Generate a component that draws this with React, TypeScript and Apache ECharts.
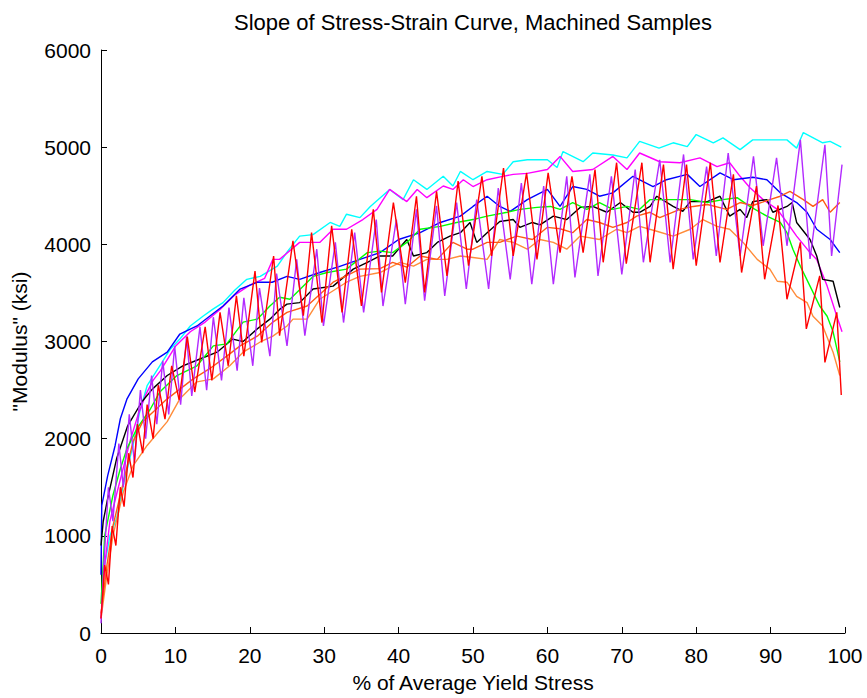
import React, { useEffect, useRef } from "react";
import * as echarts from "echarts";

const titleText = "Slope of Stress-Strain Curve, Machined Samples";
const xName = "% of Average Yield Stress";
const yName = "\"Modulus\" (ksi)";

const xTicks = [0, 10, 20, 30, 40, 50, 60, 70, 80, 90, 100];
const yTicks = [0, 1000, 2000, 3000, 4000, 5000, 6000];

const cyanData = [[0.5,700],[1.2,1000],[2.1,1180],[3.0,1520],[4.3,1930],[5.2,2275],[6.2,2545],[7.9,2750],[9.3,2920],[10.6,3025],[12,3160],[13.7,3260],[15,3330],[16.4,3400],[18,3530],[19.6,3640],[21.4,3670],[23.7,3775],[25.1,3930],[26.7,4085],[28.5,4100],[30.8,4225],[32.1,4185],[33,4310],[34.8,4275],[36.2,4390],[38.8,4565],[40.6,4460],[42,4665],[43.8,4565],[46,4700],[47.3,4600],[48.3,4750],[50,4665],[51.9,4750],[54,4720],[55.4,4850],[57.3,4870],[60,4870],[61.3,4790],[62.1,4955],[64.8,4850],[66.1,4940],[68.8,4920],[70.7,4890],[72.4,5060],[75,4990],[76.9,5045],[78.8,5005],[80,5130],[82.3,5045],[83.6,5095],[85.9,4975],[87.6,5075],[90.3,5075],[92.2,5075],[93.5,4990],[94.4,5150],[97,5045],[98,5060],[99.5,5000]];

const magentaData = [[0,150],[0.5,700],[1.2,1150],[2,1400],[3,1700],[4,2000],[5,2250],[6,2450],[7,2600],[8,2700],[10,2950],[12,3100],[14,3200],[16,3330],[18,3480],[20,3580],[22,3650],[23.1,3845],[24,3845],[26.7,4020],[29.4,4020],[31.2,4155],[33,4155],[35.2,4255],[37.1,4360],[38.8,4565],[41.1,4440],[42.5,4565],[43.8,4480],[46,4600],[47.3,4565],[48.7,4665],[50,4595],[51.9,4665],[54,4700],[55.4,4720],[57.3,4730],[60,4770],[61.7,4905],[63.4,4750],[66.1,4770],[68.8,4905],[70.7,4770],[72.4,4940],[75.1,4850],[77.8,4840],[80.5,4890],[82.8,4800],[84.5,4840],[85.9,4700],[87.2,4585],[89,4460],[90.9,4360],[92.2,4225],[93.5,4085],[95.3,3915],[96.2,3845],[97.6,3570],[98.9,3260],[99.6,3100]];

const blueData = [[0,600],[0.1,1310],[0.9,1620],[1.9,1930],[2.6,2205],[3.5,2410],[5,2615],[6.9,2790],[8.9,2890],[10.6,3077],[12.9,3160],[14.6,3260],[16.4,3365],[18.7,3540],[21,3610],[23,3610],[25,3670],[26.7,3640],[29.4,3710],[32,3770],[34.8,3845],[37.5,3915],[40,4050],[42.9,4120],[45.6,4225],[48.3,4290],[50,4390],[51.9,4495],[53.6,4390],[55,4340],[57.3,4460],[60,4565],[61.7,4390],[63.4,4595],[65.3,4565],[67,4495],[68.8,4530],[71.5,4700],[74.2,4595],[76,4665],[78.8,4720],[80.5,4595],[83.2,4735],[85,4665],[87.6,4690],[89.5,4665],[91.3,4530],[93.5,4430],[94.9,4330],[96.2,4155],[98,4050],[99.3,3915]];

const blackData = [[0,900],[0.3,1150],[0.9,1385],[2.1,1795],[3.6,2135],[5.5,2380],[6.9,2510],[8.9,2650],[11,2750],[13.3,2820],[15.6,2890],[17.7,3025],[19.1,3000],[21,3130],[22.7,3230],[24,3330],[25,3385],[26.7,3400],[28.5,3540],[31.2,3570],[33.9,3745],[35.8,3815],[37.5,3880],[39.2,3880],[41.1,4050],[42,3880],[43.8,3915],[45.2,4020],[46.9,4085],[48.3,4120],[49.6,4225],[50.5,4020],[51.9,4120],[53.6,4235],[55.4,4255],[56.3,4175],[58,4225],[59,4200],[60.8,4290],[62.6,4255],[64.4,4380],[66.1,4390],[68,4330],[69.8,4430],[71.5,4330],[72.4,4330],[73.8,4390],[74.7,4495],[76.9,4390],[78.2,4340],[79.2,4440],[81.5,4440],[83.2,4495],[84.5,4290],[85.9,4360],[86.8,4275],[87.6,4440],[89.5,4460],[90.3,4330],[92.2,4390],[92.9,4430],[93.5,4225],[95.3,4050],[96.2,3880],[97,3640],[98.4,3620],[99.3,3350]];

const greenData = [[0,300],[0.5,1005],[1.6,1415],[2.6,1690],[3.5,1900],[4.8,2100],[6.6,2300],[7.9,2480],[10.2,2650],[12.9,2750],[15.1,2955],[16.9,2975],[19.1,3200],[21,3230],[22.7,3365],[24,3455],[25.4,3435],[28.5,3670],[30.4,3710],[33,3745],[35.8,3915],[37.5,3930],[39.2,3915],[41.1,4020],[42.9,4155],[45.6,4185],[47.8,4225],[50,4255],[51.9,4290],[54.6,4330],[56.3,4360],[58.6,4380],[60.4,4390],[61.7,4360],[63.4,4430],[65.3,4360],[67,4430],[68.8,4360],[70.7,4390],[72.4,4360],[73.8,4460],[76.9,4460],[79.2,4460],[81.5,4430],[83.6,4460],[85.5,4480],[87.2,4390],[89.5,4290],[91.3,4225],[92.2,4120],[93,3950],[94,3775],[95.3,3570],[96.6,3365],[97.6,3260],[98.4,3100],[99.3,2790]];

const darkOrangeData = [[0,200],[0.8,700],[1.6,1100],[3,1550],[4.3,1970],[5.6,2175],[7,2275],[8.9,2410],[10.6,2510],[12.4,2615],[14.6,2720],[16.9,2850],[18.7,2955],[21,3055],[23.1,3200],[25,3300],[27.7,3365],[31.2,3610],[34.8,3745],[37.5,3750],[39.2,3815],[41.1,3765],[42.9,3880],[45.2,3845],[47.3,4020],[49.2,3950],[50,3950],[51.9,4020],[53.6,4020],[55.9,4085],[58,4050],[60,4175],[61.7,4160],[63.4,4120],[65.3,4255],[67,4225],[68.8,4175],[70.7,4225],[72,4290],[73.8,4330],[75.1,4275],[77.8,4360],[79.6,4390],[81.5,4410],[84.1,4360],[85.9,4430],[87.6,4400],[89.9,4460],[91.3,4495],[92.6,4545],[94.4,4460],[95.7,4390],[97,4460],[98,4330],[99.3,4430]];

const lightOrangeData = [[0,150],[0.8,600],[1.6,1000],[3,1450],[4.3,1720],[6.2,1930],[8.9,2175],[10.6,2410],[12.9,2585],[15.1,2615],[17.3,2750],[19.1,2890],[21.4,2995],[23.1,3055],[25,3160],[25.8,3230],[27.7,3230],[29.4,3435],[33,3610],[34.8,3670],[37.5,3710],[40.2,3815],[42,3775],[43.8,3845],[46.5,3845],[48.3,3880],[50,3865],[51.9,3845],[53.6,4050],[55.4,4020],[57.3,3950],[59,4050],[60.8,4020],[62.6,3950],[64.4,4085],[67,4050],[69.3,4155],[70.7,4120],[72.4,4185],[74.7,4135],[76.9,4085],[79.2,4155],[80.9,4255],[82.8,4185],[84.5,4155],[86.3,4020],[88.2,3845],[89.9,3745],[90.9,3620],[92.2,3610],[93.5,3465],[94.9,3400],[95.7,3260],[97,3160],[98.4,2890],[99.3,2650]];

const purpleData = [[0,100],[0.3,600],[1.0,1500],[1.6,1150],[2.4,1950],[3.0,1500],[3.8,2250],[4.5,1750],[5.3,2500],[6.0,2000],[6.8,2650],[7.5,2150],[8.3,2800],[9.1,2250],[9.9,2950],[10.7,2350],[11.5,3050],[12.2,2440],[13.3,3150],[14.2,2500],[15.1,3250],[16.2,2600],[17.2,3350],[18.3,2700],[19.2,3450],[20.4,2750],[21.3,3550],[22.7,2850],[23.6,3700],[25.0,2955],[26.3,3845],[27.4,3060],[29.0,3950],[29.9,3160],[31.5,4020],[32.6,3195],[34.1,4120],[35.3,3300],[37.0,4255],[37.9,3365],[39.7,4255],[40.9,3385],[42.4,4360],[43.5,3420],[45.1,4395],[46.2,3470],[47.8,4430],[49.1,3540],[50.5,4460],[52.1,3540],[53.4,4580],[55.0,3640],[56.5,4630],[57.9,3590],[59.5,4600],[60.8,3590],[62.6,4700],[63.7,3660],[65.7,4720],[66.8,3675],[68.6,4700],[70.0,3690],[71.8,4770],[72.9,3815],[75.1,4870],[76.5,3815],[78.3,4925],[79.6,3845],[81.4,4800],[82.7,3880],[84.3,4940],[85.9,3880],[87.7,4905],[89.0,3985],[90.8,4890],[92.2,3985],[94.0,5075],[95.3,3850],[97.3,5025],[98.2,3880],[99.6,4820]];

const redData = [[0,150],[0.5,700],[1.0,500],[1.5,1100],[2.0,900],[2.6,1500],[3.1,1300],[3.7,1850],[4.3,1600],[4.9,2150],[5.6,1850],[6.2,2350],[7.0,2000],[7.7,2550],[8.6,2200],[9.5,2750],[10.5,2400],[11.6,3050],[12.6,2480],[14.0,3150],[14.9,2600],[16.0,3300],[17.1,2750],[18.2,3470],[19.2,2850],[20.7,3725],[21.6,2990],[23.2,3880],[24.0,3060],[25.8,4035],[27.2,3265],[28.3,4120],[29.7,3195],[31.0,4190],[32.4,3300],[33.7,4155],[35.0,3365],[36.6,4360],[37.7,3505],[39.3,4430],[40.9,3605],[42.4,4495],[43.5,3505],[45.1,4545],[46.5,3675],[48.0,4650],[49.4,3780],[51.2,4700],[52.5,3880],[54.1,4785],[55.4,3880],[57.2,4735],[58.6,3845],[60.1,4735],[61.7,3915],[63.3,4700],[64.8,3915],[66.4,4770],[67.5,3815],[69.3,4840],[70.6,3800],[72.7,4840],[73.8,3815],[75.6,4820],[76.9,3745],[78.7,4820],[80.0,3780],[81.9,4840],[83.2,3815],[85.0,4720],[86.1,3710],[88.1,4600],[89.2,3640],[91.0,4400],[92.2,3435],[94.0,4020],[94.8,3130],[96.6,3675],[97.3,2785],[98.9,3300],[99.5,2450]];

const seriesDefs = [
  { name: "cyan", data: cyanData, color: "#00ffff" },
  { name: "magenta", data: magentaData, color: "#ff00ff" },
  { name: "blue", data: blueData, color: "#0000ff" },
  { name: "black", data: blackData, color: "#000000" },
  { name: "green", data: greenData, color: "#00ff00" },
  { name: "lightOrange", data: lightOrangeData, color: "#ff8c3a" },
  { name: "darkOrange", data: darkOrangeData, color: "#ff5a14" },
  { name: "purple", data: purpleData, color: "#b22aff" },
  { name: "red", data: redData, color: "#ff0000" },
];

const FONT = "'Liberation Sans', Arial, sans-serif";
const FS = 21;

export default function App() {
  const ref = useRef<HTMLDivElement>(null);
  useEffect(() => {
    if (!ref.current) return;
    document.body.style.margin = "0";
    document.body.style.overflow = "hidden";
    const chart = echarts.init(ref.current, null, { renderer: "svg" });
    chart.setOption({
      animation: false,
      backgroundColor: "#ffffff",
      textStyle: { fontFamily: FONT },
      grid: { left: 101, right: 22, top: 50, bottom: 63, containLabel: false },
      graphic: [
        {
          type: "text",
          x: 473,
          y: 22,
          style: {
            text: titleText,
            fontSize: 22,
            fontFamily: FONT,
            fill: "#000",
            textAlign: "center",
            textVerticalAlign: "middle",
          },
        },
      ],
      xAxis: {
        type: "value",
        min: 0,
        max: 100,
        interval: 10,
        name: xName,
        nameLocation: "middle",
        nameGap: 39,
        nameTextStyle: { fontSize: FS, color: "#000", fontFamily: FONT },
        axisLine: { show: true, lineStyle: { color: "#000", width: 1 } },
        axisTick: { show: true, inside: true, length: 6, lineStyle: { color: "#000" } },
        axisLabel: {
          color: "#000",
          fontSize: FS,
          margin: 12,
          fontFamily: FONT,
          formatter: (v: number) => (xTicks.includes(v) ? String(v) : ""),
        },
        splitLine: { show: false },
      },
      yAxis: {
        type: "value",
        min: 0,
        max: 6000,
        interval: 1000,
        name: yName,
        nameLocation: "middle",
        nameGap: 71,
        nameRotate: 90,
        nameTextStyle: { fontSize: FS, color: "#000", fontFamily: FONT },
        axisLine: { show: true, lineStyle: { color: "#000", width: 1 } },
        axisTick: { show: true, inside: true, length: 6, lineStyle: { color: "#000" } },
        axisLabel: {
          color: "#000",
          fontSize: FS,
          margin: 10,
          fontFamily: FONT,
          formatter: (v: number) => (yTicks.includes(v) ? String(v) : ""),
        },
        splitLine: { show: false },
      },
      series: seriesDefs.map((s) => ({
        name: s.name,
        type: "line",
        data: s.data,
        showSymbol: false,
        symbol: "none",
        lineStyle: { color: s.color, width: 1.4 },
        itemStyle: { color: s.color },
      })),
    });
    return () => chart.dispose();
  }, []);
  return <div ref={ref} style={{ width: 867, height: 698 }} />;
}
